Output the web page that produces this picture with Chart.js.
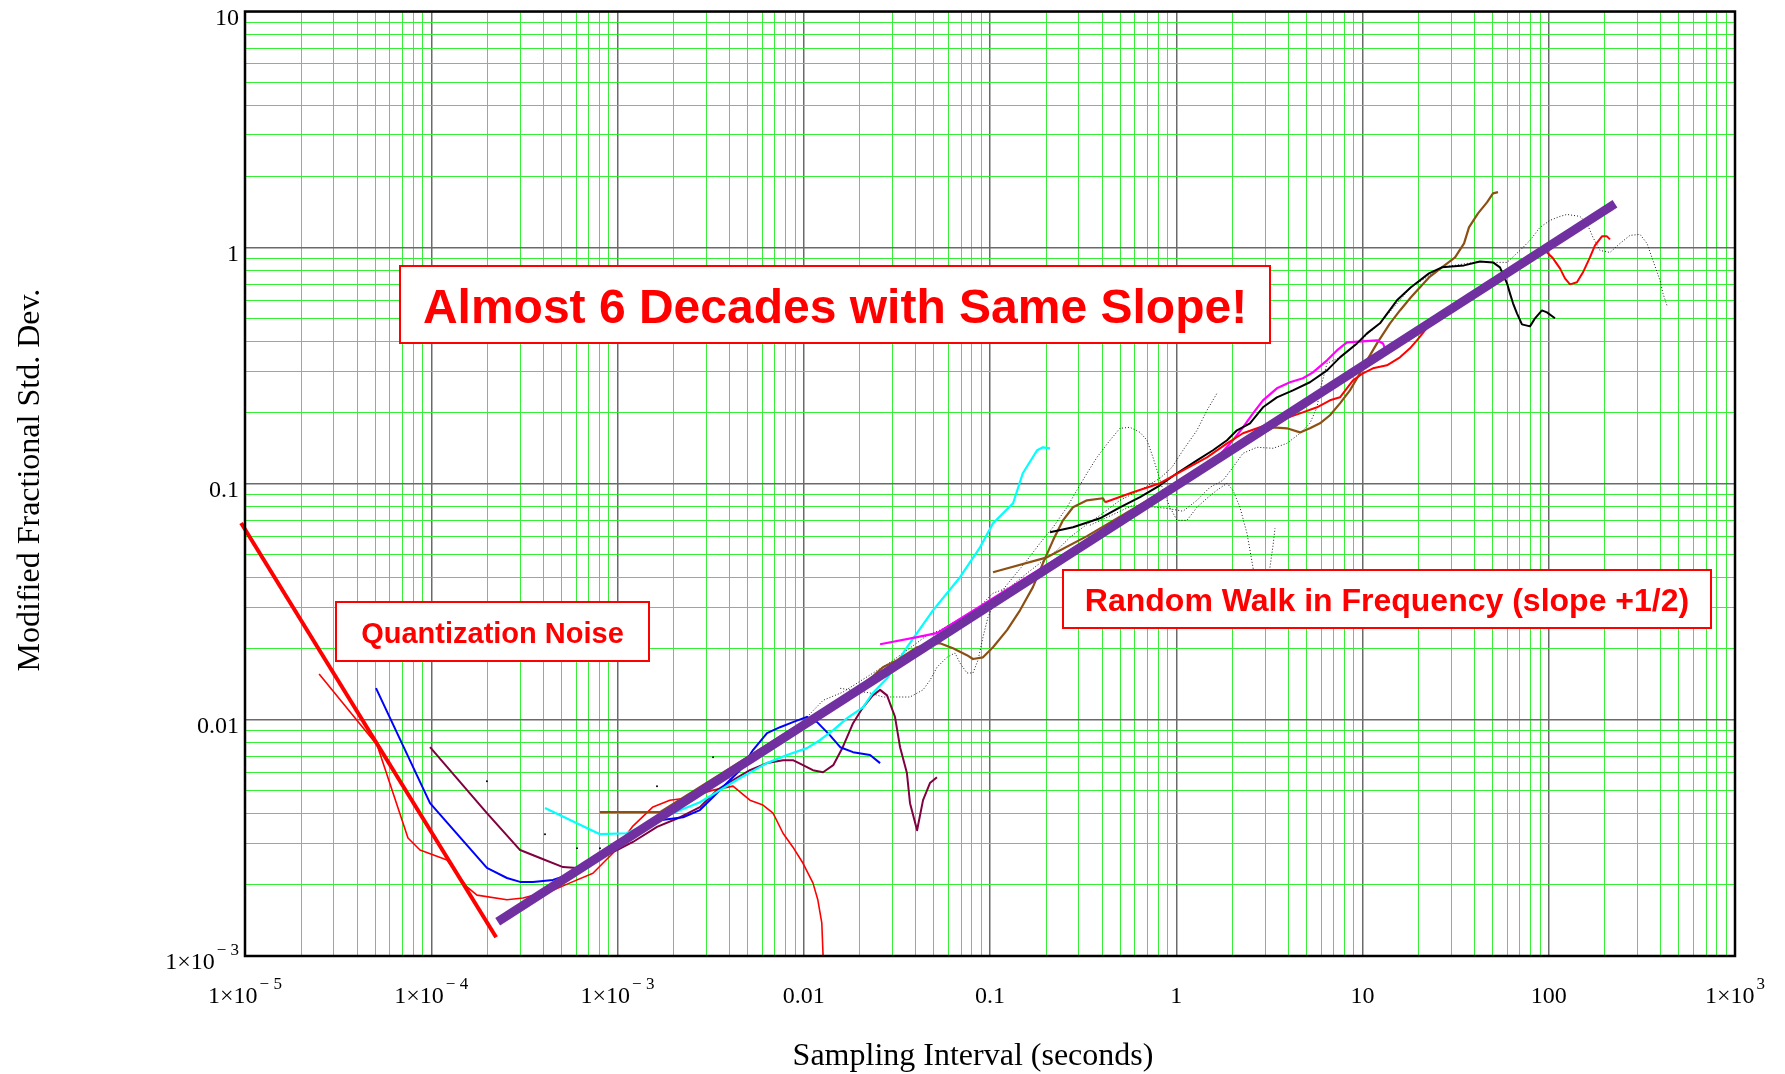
<!DOCTYPE html>
<html>
<head>
<meta charset="utf-8">
<title>Modified Fractional Std. Dev. vs Sampling Interval</title>
<style>
  html, body { margin: 0; padding: 0; background: #ffffff; }
  #wrap { position: relative; width: 1785px; height: 1074px; }
</style>
<script src="https://cdn.jsdelivr.net/npm/chart.js@4.4.1/dist/chart.umd.min.js"></script>
</head>
<body>
<div id="wrap"><canvas id="chart" width="1785" height="1074"></canvas></div>
<script>
// ---- Axis ticks ----
const xTickValues = [1e-5, 1e-4, 1e-3, 0.01, 0.1, 1, 10, 100, 1000];
const xTickLabels = [['1\u00d710', '\u2212 5'], ['1\u00d710', '\u2212 4'], ['1\u00d710', '\u2212 3'], ['0.01', ''], ['0.1', ''], ['1', ''], ['10', ''], ['100', ''], ['1\u00d710', '3']];
const yTickValues = [1e-3, 0.01, 0.1, 1, 10];
const yTickLabels = [['1\u00d710', '\u2212 3'], ['0.01', ''], ['0.1', ''], ['1', ''], ['10', '']];

// ---- Reference slopes ----
const quantSlopeTau   = [9.53e-6, 2.23e-4];
const quantSlopeSigma = [0.0682, 1.20e-3];
const rwfmSlopeTau    = [2.274e-4, 226.8];
const rwfmSlopeSigma  = [1.396e-3, 1.535];

// ---- Measured runs (tau in seconds, modified fractional std. dev.) ----
const redShortTau = [2.50e-5, 5.12e-5, 7.50e-5, 8.70e-5, 1.215e-4, 1.556e-4, 1.76e-4, 2.55e-4, 3.11e-4, 4.50e-4, 5.56e-4, 7.38e-4, 9.46e-4, 1.21e-3, 1.55e-3, 1.91e-3, 2.36e-3, 3.26e-3, 4.17e-3, 5.14e-3, 6.04e-3, 6.84e-3, 7.74e-3, 8.75e-3, 9.91e-3, 1.12e-2, 1.19e-2, 1.25e-2, 1.27e-2];
const redShortSigma = [1.563e-2, 7.82e-3, 3.16e-3, 2.81e-3, 2.55e-3, 1.96e-3, 1.81e-3, 1.73e-3, 1.76e-3, 1.90e-3, 2.04e-3, 2.24e-3, 2.73e-3, 3.55e-3, 4.28e-3, 4.57e-3, 4.67e-3, 5.04e-3, 5.24e-3, 4.57e-3, 4.36e-3, 4.03e-3, 3.31e-3, 2.89e-3, 2.47e-3, 2.04e-3, 1.73e-3, 1.38e-3, 1.0e-3];

const blueTau = [5.05e-5, 9.85e-5, 1.99e-4, 2.55e-4, 3.00e-4, 3.52e-4, 4.50e-4, 5.36e-4, 6.06e-4, 7.38e-4, 9.11e-4, 1.21e-3, 1.69e-3, 2.25e-3, 2.77e-3, 3.26e-3, 3.87e-3, 4.55e-3, 5.34e-3, 6.35e-3, 7.46e-3, 8.75e-3, 1.04e-2, 1.18e-2, 1.38e-2, 1.57e-2, 1.84e-2, 2.27e-2, 2.57e-2];
const blueSigma = [1.362e-2, 4.44e-3, 2.36e-3, 2.14e-3, 2.06e-3, 2.06e-3, 2.10e-3, 2.20e-3, 2.31e-3, 2.62e-3, 2.89e-3, 3.35e-3, 3.76e-3, 3.87e-3, 4.15e-3, 4.71e-3, 5.40e-3, 6.12e-3, 7.45e-3, 8.79e-3, 9.31e-3, 9.78e-3, 1.03e-2, 9.78e-3, 8.62e-3, 7.66e-3, 7.30e-3, 7.10e-3, 6.56e-3];

const maroonTau = [9.85e-5, 1.99e-4, 3.00e-4, 3.84e-4, 5.10e-4, 6.06e-4, 8.05e-4, 9.94e-4, 1.21e-3, 1.63e-3, 2.17e-3, 2.77e-3, 3.42e-3, 4.17e-3, 5.14e-3, 6.35e-3, 7.74e-3, 8.75e-3, 9.91e-3, 1.12e-2, 1.27e-2, 1.44e-2, 1.62e-2, 1.84e-2, 2.08e-2, 2.35e-2, 2.57e-2, 2.80e-2, 3.09e-2, 3.29e-2, 3.58e-2, 3.72e-2, 4.06e-2, 4.37e-2, 4.76e-2, 5.19e-2];
const maroonSigma = [7.66e-3, 4.03e-3, 2.81e-3, 2.60e-3, 2.38e-3, 2.36e-3, 2.60e-3, 2.81e-3, 3.04e-3, 3.52e-3, 3.87e-3, 4.27e-3, 5.04e-3, 5.56e-3, 6.12e-3, 6.56e-3, 6.75e-3, 6.75e-3, 6.43e-3, 6.12e-3, 6.00e-3, 6.43e-3, 7.66e-3, 9.68e-3, 1.13e-2, 1.27e-2, 1.34e-2, 1.27e-2, 1.03e-2, 7.66e-3, 5.95e-3, 4.44e-3, 3.41e-3, 4.57e-3, 5.40e-3, 5.72e-3];

const cyanTau = [4.08e-4, 8.05e-4, 1.12e-3, 1.49e-3, 1.99e-3, 2.77e-3, 3.55e-3, 4.55e-3, 6.35e-3, 8.13e-3, 1.04e-2, 1.22e-2, 1.44e-2, 1.71e-2, 2.08e-2, 2.35e-2, 2.80e-2, 3.58e-2, 4.94e-2, 6.90e-2, 8.84e-2, 0.1038, 0.133, 0.150, 0.179, 0.1925, 0.210];
const cyanSigma = [4.23e-3, 3.28e-3, 3.31e-3, 3.66e-3, 4.03e-3, 4.48e-3, 5.04e-3, 5.67e-3, 6.56e-3, 7.10e-3, 7.59e-3, 8.20e-3, 9.05e-3, 1.017e-2, 1.13e-2, 1.30e-2, 1.50e-2, 2.03e-2, 2.91e-2, 4.02e-2, 5.38e-2, 6.80e-2, 8.27e-2, 0.1108, 0.1386, 0.1427, 0.1413];

const brownATau = [8.05e-4, 1.69e-3, 1.93e-2, 2.35e-2, 2.66e-2, 3.17e-2, 4.06e-2, 4.94e-2, 5.39e-2, 6.33e-2, 7.52e-2, 8.10e-2, 9.17e-2, 0.1038, 0.1234, 0.1449, 0.170, 0.1925, 0.218, 0.2465, 0.279, 0.3317, 0.4043, 0.415];
const brownASigma = [4.07e-3, 4.07e-3, 1.36e-2, 1.53e-2, 1.67e-2, 1.79e-2, 2.03e-2, 2.11e-2, 2.11e-2, 2.01e-2, 1.88e-2, 1.81e-2, 1.84e-2, 2.03e-2, 2.40e-2, 2.91e-2, 3.65e-2, 4.61e-2, 5.76e-2, 7.00e-2, 7.95e-2, 8.51e-2, 8.68e-2, 8.35e-2];

const brownBTau = [0.1038, 0.2023, 0.3317, 1.047, 3.31, 3.93, 4.62, 5.22, 5.91, 6.69, 7.57, 8.56, 9.69, 10.57, 11.96, 14.05, 15.89, 18.2, 22.75, 26.7, 31.4, 35.1, 37.3, 41.7, 46.6, 50.2, 53.4];
const brownBSigma = [4.22e-2, 4.88e-2, 6.00e-2, 0.1024, 0.1734, 0.1717, 0.165, 0.1717, 0.1803, 0.195, 0.219, 0.2487, 0.2936, 0.3332, 0.393, 0.478, 0.542, 0.616, 0.748, 0.825, 0.909, 1.042, 1.218, 1.396, 1.554, 1.697, 1.718];

const magentaTau = [2.57e-2, 4.06e-2, 5.19e-2, 1.614, 2.016, 2.282, 2.582, 2.922, 3.47, 4.08, 4.79, 5.42, 6.45, 7.29, 8.25, 11.96, 12.88, 13.2];
const magentaSigma = [2.09e-2, 2.24e-2, 2.33e-2, 0.1257, 0.1528, 0.1734, 0.1987, 0.2256, 0.2536, 0.269, 0.2796, 0.2963, 0.3332, 0.367, 0.397, 0.405, 0.393, 0.3746];

const blackTau = [0.210, 0.279, 0.3895, 0.4986, 0.639, 0.818, 1.009, 1.292, 1.575, 1.873, 2.118, 2.488, 2.922, 3.47, 4.23, 5.22, 6.45, 7.57, 9.34, 10.57, 12.41, 15.31, 18.2, 22.75, 26.7, 35.1, 42.7, 50.2, 54.7, 59.7, 61.9, 64.3, 67.5, 71.8, 79.3, 84.4, 91.9, 97.8, 108.0];
const blackSigma = [6.23e-2, 6.54e-2, 7.14e-2, 7.95e-2, 8.77e-2, 9.85e-2, 0.1108, 0.1257, 0.1386, 0.1528, 0.1684, 0.1803, 0.2108, 0.2323, 0.2487, 0.269, 0.302, 0.343, 0.393, 0.4335, 0.478, 0.598, 0.679, 0.778, 0.825, 0.841, 0.874, 0.866, 0.825, 0.706, 0.640, 0.581, 0.527, 0.473, 0.464, 0.502, 0.542, 0.532, 0.502];

const redLongTau = [0.415, 0.5857, 0.818, 1.087, 1.462, 1.873, 2.282, 2.815, 3.606, 4.62, 5.70, 6.69, 7.57, 8.89, 10.06, 11.38, 13.53, 15.89, 17.98, 19.6, 23.9, 95.4, 105.4, 114.9, 122.2, 130.0, 141.7, 152.7, 166.4, 177.1, 193.1, 205.4, 213.2];
const redLongSigma = [8.35e-2, 9.20e-2, 0.1005, 0.114, 0.1294, 0.1483, 0.1636, 0.1734, 0.1857, 0.1987, 0.2108, 0.2256, 0.2323, 0.2742, 0.2936, 0.3083, 0.3174, 0.343, 0.3746, 0.405, 0.492, 0.973, 0.901, 0.817, 0.741, 0.699, 0.713, 0.786, 0.909, 1.022, 1.116, 1.116, 1.084];

// ---- Dotted runs ----
const dotATau = [1.57e-2, 2.27e-2, 2.66e-2, 3.17e-2, 3.72e-2, 4.37e-2, 4.76e-2, 5.19e-2, 5.87e-2, 6.49e-2, 6.90e-2, 7.52e-2, 8.10e-2, 8.62e-2, 9.17e-2, 9.75e-2, 0.109, 0.133, 0.158, 0.1855, 0.218, 0.259, 0.293, 0.3317, 0.3753, 0.4406, 0.4986, 0.5643, 0.639, 0.6965, 0.750, 0.798, 0.849, 0.925, 1.009, 1.142, 1.292, 1.462, 1.654, 1.873, 2.016, 2.198, 2.397, 2.582, 2.747];
const dotASigma = [1.36e-2, 1.30e-2, 1.25e-2, 1.25e-2, 1.25e-2, 1.34e-2, 1.47e-2, 1.67e-2, 1.84e-2, 1.92e-2, 1.74e-2, 1.58e-2, 1.58e-2, 1.79e-2, 2.24e-2, 2.72e-2, 3.31e-2, 4.02e-2, 4.74e-2, 5.60e-2, 6.54e-2, 7.95e-2, 9.39e-2, 0.1108, 0.1294, 0.1528, 0.1717, 0.1734, 0.165, 0.1528, 0.1294, 0.1108, 9.39e-2, 7.95e-2, 7.00e-2, 7.00e-2, 7.95e-2, 8.68e-2, 9.39e-2, 0.1005, 9.39e-2, 7.95e-2, 6.17e-2, 4.43e-2, 3.21e-2];

const dotBTau = [7.46e-3, 1.27e-2, 1.62e-2, 2.27e-2, 2.90e-2, 3.58e-2, 4.59e-2, 5.39e-2, 6.65e-2, 8.10e-2, 9.17e-2, 0.1038, 0.128, 0.158, 0.1855, 0.229, 0.2688, 0.3157, 0.3895, 0.4986, 0.639, 0.818, 0.949, 1.087, 1.292, 1.462, 1.654];
const dotBSigma = [7.82e-3, 1.21e-2, 1.31e-2, 1.55e-2, 1.75e-2, 1.97e-2, 2.28e-2, 2.40e-2, 2.64e-2, 2.83e-2, 3.12e-2, 3.44e-2, 3.65e-2, 4.18e-2, 4.61e-2, 5.23e-2, 5.93e-2, 6.54e-2, 7.35e-2, 8.51e-2, 9.39e-2, 0.1055, 0.1174, 0.1386, 0.1684, 0.2046, 0.2415];

const dotCTau = [0.344, 0.5857, 0.892, 1.087, 1.292, 1.517, 1.782, 2.016, 2.282, 2.713, 3.31, 3.93, 4.62, 5.22, 5.70, 5.91, 6.45, 7.57, 9.34, 12.41, 18.2, 26.7, 42.7, 50.2, 59.7, 70.1, 79.3, 89.7, 101.5, 114.9, 125.3, 147.1, 160.4, 172.8, 188.4, 213.2, 241.3, 273.0, 309.0, 336.8, 362.7, 395.5, 410.5, 431.3];
const dotCSigma = [6.67e-2, 8.11e-2, 7.87e-2, 7.65e-2, 8.51e-2, 9.66e-2, 0.1034, 0.1174, 0.1346, 0.1427, 0.1413, 0.1483, 0.1636, 0.1803, 0.2108, 0.2487, 0.3236, 0.343, 0.393, 0.478, 0.679, 0.825, 0.874, 0.866, 0.866, 0.973, 1.073, 1.218, 1.304, 1.356, 1.382, 1.356, 1.266, 1.105, 0.973, 0.954, 1.042, 1.127, 1.138, 1.042, 0.883, 0.727, 0.640, 0.569];

const dotDTau = [3.03, 3.185, 3.31, 3.39];
const dotDSigma = [3.21e-2, 4.43e-2, 5.49e-2, 6.48e-2];

const sparseTau = [1.99e-4, 4.08e-4, 6.06e-4, 8.05e-4, 1.63e-3, 3.26e-3];
const sparseSigma = [5.50e-3, 3.28e-3, 2.86e-3, 2.86e-3, 5.24e-3, 6.95e-3];

// ---- Text ----
const xTitle = 'Sampling Interval (seconds)';
const yTitle = 'Modified Fractional Std. Dev.';
const notes = [
  { text: 'Almost 6 Decades with Same Slope!', box: [400, 266, 1270, 343], baseline: 323, size: 48 },
  { text: 'Quantization Noise', box: [336, 602, 649, 661], baseline: 643, size: 29 },
  { text: 'Random Walk in Frequency (slope +1/2)', box: [1063, 570, 1711, 628], baseline: 611, size: 32 }
];

// ---- Helpers ----
const pts = (tau, sigma) => tau.map((t, i) => ({ x: t, y: sigma[i] }));
function run(label, tau, sigma, color, width, order, extra) {
  return Object.assign({
    label, data: pts(tau, sigma), borderColor: color, backgroundColor: color,
    borderWidth: width, pointRadius: 0, tension: 0, fill: false,
    borderJoinStyle: 'round', order
  }, extra || {});
}
const dotted = { borderDash: [1, 2], borderJoinStyle: 'miter' };

// Grid lines at 1..9 x 10^n over the full decade span
function decadeTicks(lo, hi) {
  const out = [];
  for (let e = lo; e < hi; e++) for (let m = 1; m <= 9; m++) out.push({ value: m * Math.pow(10, e) });
  out.push({ value: Math.pow(10, hi) });
  return out;
}
const isDecade = v => Math.abs(Math.log10(v) - Math.round(Math.log10(v))) < 1e-6;

const SERIF = '"Liberation Serif", "Times New Roman", serif';
const SANS = '"Liberation Sans", Arial, sans-serif';

function drawSci(ctx, base, sup, x, y, align) {
  ctx.font = '24px ' + SERIF;
  const wb = ctx.measureText(base).width;
  ctx.font = '17px ' + SERIF;
  const ws = sup ? ctx.measureText(sup).width + 2 : 0;
  const total = wb + ws;
  let x0 = align === 'right' ? x - total : x - total / 2;
  ctx.textAlign = 'left';
  ctx.textBaseline = 'alphabetic';
  ctx.font = '24px ' + SERIF;
  ctx.fillText(base, x0, y);
  if (sup) {
    ctx.font = '17px ' + SERIF;
    ctx.fillText(sup, x0 + wb + 2, y - 14);
  }
}

const decorations = {
  id: 'decorations',
  afterDatasetsDraw(chart) {
    const ctx = chart.ctx, a = chart.chartArea;
    ctx.save();
    // Plot frame
    ctx.strokeStyle = '#000';
    ctx.lineWidth = 2.5;
    ctx.strokeRect(a.left, a.top, a.right - a.left, a.bottom - a.top);
    // Annotation boxes
    notes.forEach(n => {
      const [l, t, r, b] = n.box;
      ctx.fillStyle = '#fff';
      ctx.fillRect(l, t, r - l, b - t);
      ctx.strokeStyle = '#ff0000';
      ctx.lineWidth = 2;
      ctx.strokeRect(l, t, r - l, b - t);
      ctx.fillStyle = '#ff0000';
      ctx.font = 'bold ' + n.size + 'px ' + SANS;
      ctx.textAlign = 'center';
      ctx.textBaseline = 'alphabetic';
      ctx.fillText(n.text, (l + r) / 2, n.baseline);
    });
    ctx.restore();
  },
  afterDraw(chart) {
    const ctx = chart.ctx;
    const xs = chart.scales.x, ys = chart.scales.y;
    ctx.save();
    ctx.fillStyle = '#000';
    xTickValues.forEach((v, i) => {
      const [b, s] = xTickLabels[i];
      drawSci(ctx, b, s, xs.getPixelForValue(v), 1003, 'center');
    });
    yTickValues.forEach((v, i) => {
      const [b, s] = yTickLabels[i];
      drawSci(ctx, b, s, 239, ys.getPixelForValue(v) + 13, 'right');
    });
    ctx.font = '32px ' + SERIF;
    ctx.textAlign = 'center';
    ctx.textBaseline = 'middle';
    ctx.fillText(xTitle, 973, 1057);
    ctx.translate(31, 480);
    ctx.rotate(-Math.PI / 2);
    ctx.fillText(yTitle, 0, 0);
    ctx.restore();
  }
};

const gridStyle = {
  color: c => (c.tick && isDecade(c.tick.value)) ? '#6a6a6a' : '#35ee35',
  lineWidth: c => (c.tick && isDecade(c.tick.value)) ? 1.5 : 1,
  drawTicks: false,
  tickLength: 0
};

new Chart(document.getElementById('chart'), {
  type: 'line',
  data: {
    datasets: [
      run('slope +1/2', rwfmSlopeTau, rwfmSlopeSigma, '#7030a0', 9, 1, { borderCapStyle: 'butt' }),
      run('slope -1', quantSlopeTau, quantSlopeSigma, '#ff0000', 4, 2, { borderCapStyle: 'butt', clip: false }),
      run('red long', redLongTau, redLongSigma, '#ff0000', 2, 5),
      run('magenta', magentaTau, magentaSigma, '#ff00ff', 2.2, 6),
      run('black', blackTau, blackSigma, '#000000', 2, 5),
      run('brown B', brownBTau, brownBSigma, '#8c5014', 2.2, 7),
      run('brown A', brownATau, brownASigma, '#8c5014', 2.2, 7),
      run('cyan', cyanTau, cyanSigma, '#00ffff', 2.2, 8),
      run('blue', blueTau, blueSigma, '#0000ff', 2, 8),
      run('maroon', maroonTau, maroonSigma, '#800040', 2, 8),
      run('red short', redShortTau, redShortSigma, '#ff0000', 1.6, 8),
      run('dotted A', dotATau, dotASigma, '#1a1a1a', 1, 12, dotted),
      run('dotted B', dotBTau, dotBSigma, '#1a1a1a', 1, 12, dotted),
      run('dotted C', dotCTau, dotCSigma, '#1a1a1a', 1, 12, dotted),
      run('dotted D', dotDTau, dotDSigma, '#1a1a1a', 1, 12, dotted),
      run('sparse', sparseTau, sparseSigma, '#000000', 0, 13, { showLine: false, pointRadius: 1, pointBorderWidth: 0, pointBackgroundColor: '#000' })
    ]
  },
  options: {
    responsive: false,
    devicePixelRatio: 1,
    animation: false,
    events: [],
    layout: { padding: { left: 0, top: 11.5, right: 50, bottom: 0 } },
    plugins: { legend: { display: false }, tooltip: { enabled: false }, title: { display: false } },
    scales: {
      x: {
        type: 'logarithmic', min: 1e-5, max: 1e3,
        afterBuildTicks: s => { s.ticks = decadeTicks(-5, 3); },
        afterFit: s => { s.height = 118; },
        ticks: { display: false },
        grid: gridStyle,
        border: { display: false }
      },
      y: {
        type: 'logarithmic', min: 1e-3, max: 10,
        afterBuildTicks: s => { s.ticks = decadeTicks(-3, 1); },
        afterFit: s => { s.width = 245; },
        ticks: { display: false },
        grid: gridStyle,
        border: { display: false }
      }
    }
  },
  plugins: [decorations]
});
</script>
</body>
</html>
